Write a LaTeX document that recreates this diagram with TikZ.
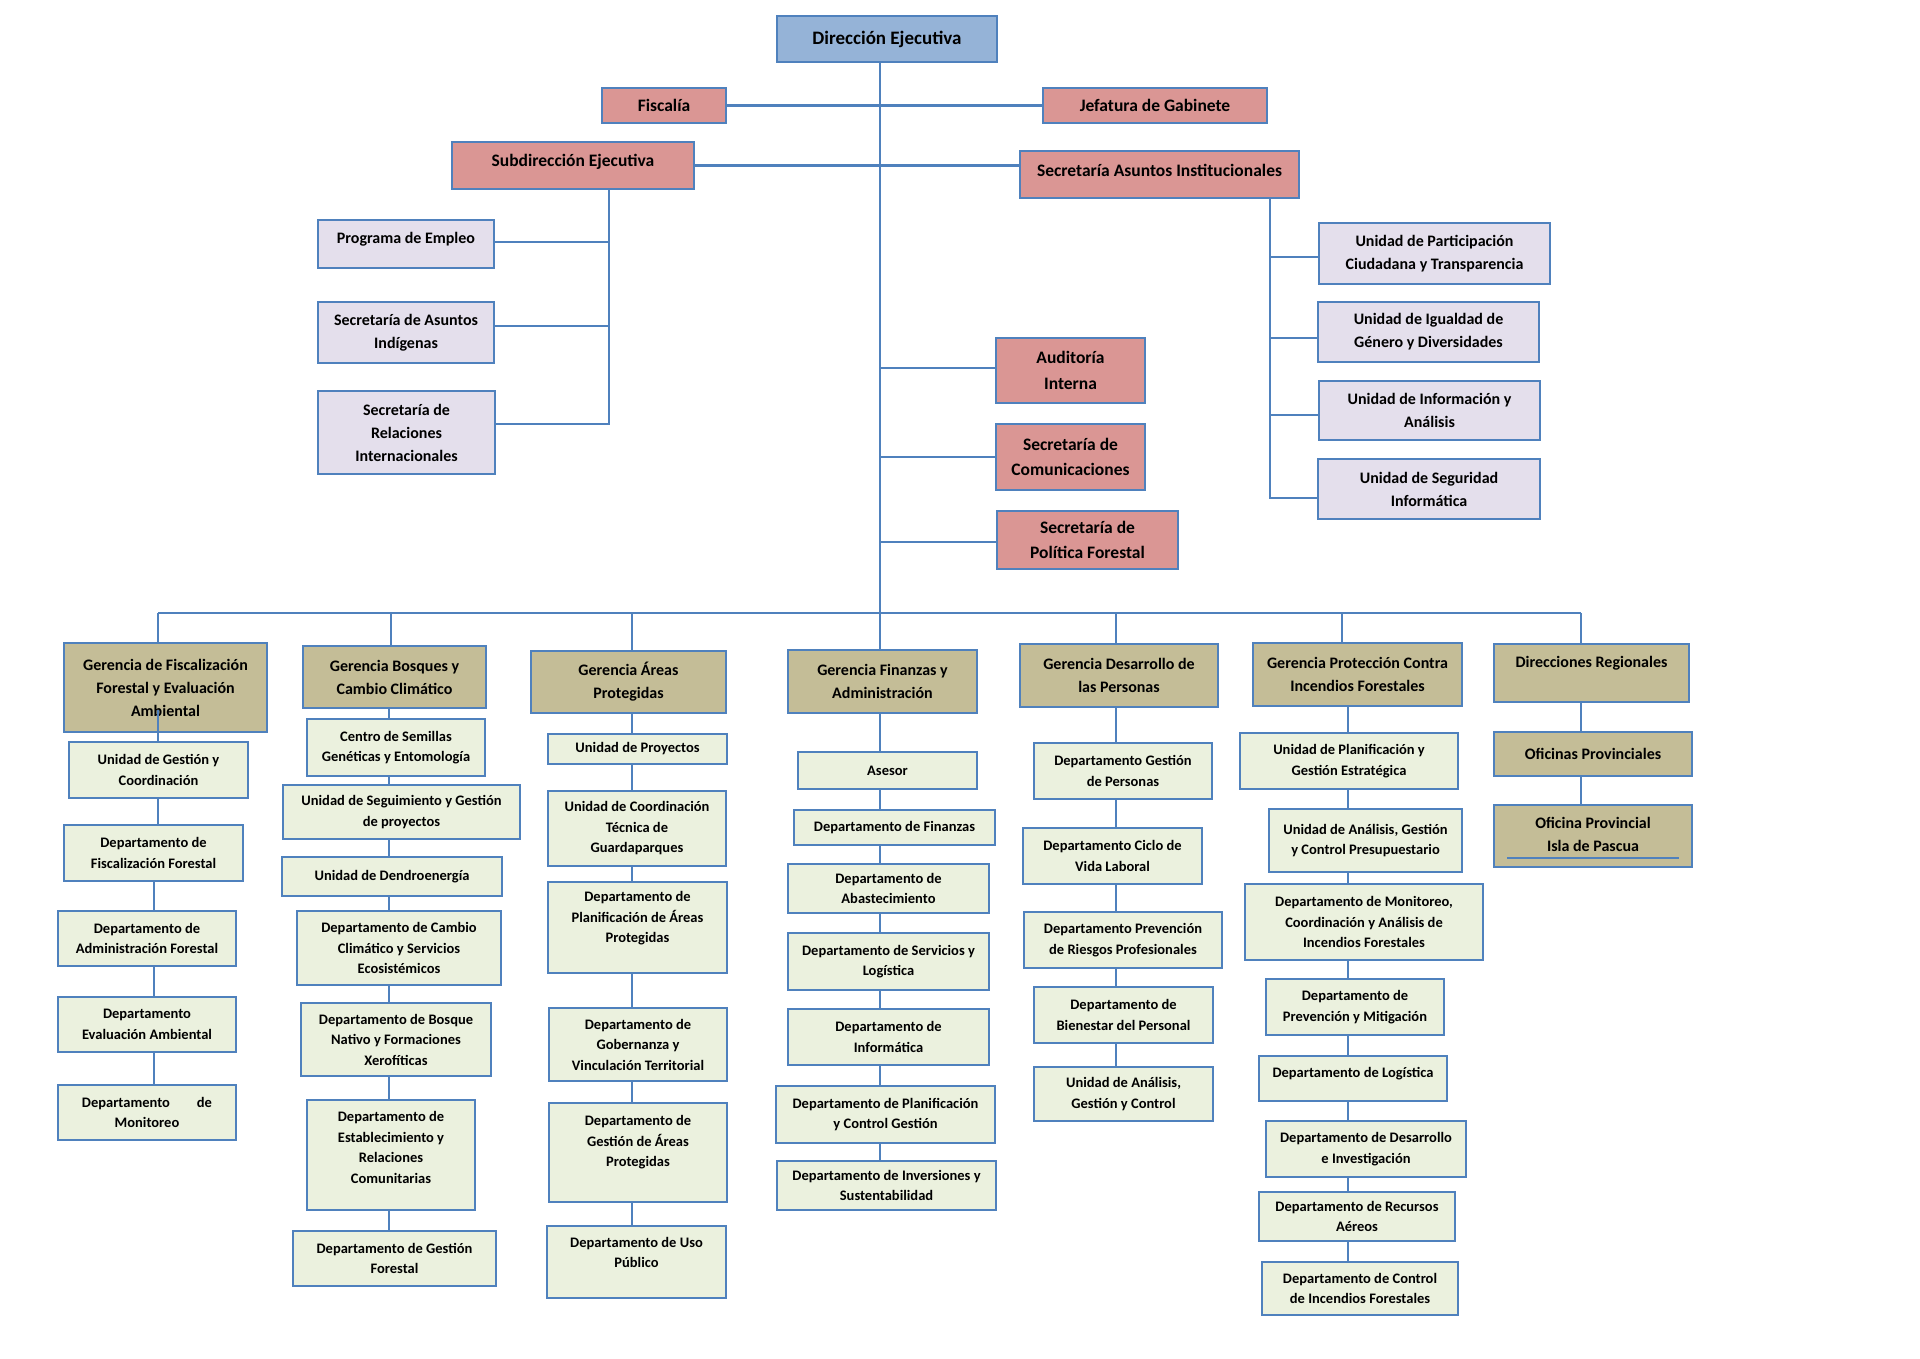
\documentclass[tikz,border=0pt]{standalone}
\usepackage{fontspec}
\setmainfont{Carlito}
\usetikzlibrary{calc}
\definecolor{bord}{HTML}{4F81BD}
\definecolor{fblue}{HTML}{95B3D7}
\definecolor{fred}{HTML}{DA9694}
\definecolor{flav}{HTML}{E4DFEC}
\definecolor{ftan}{HTML}{C4BD97}
\definecolor{fgrn}{HTML}{EBF1DE}
\tikzset{
  boxbase/.style={rectangle, draw=bord, line width=2.2pt, inner sep=0pt, outer sep=0pt},
  boxblue/.style={boxbase, fill=fblue},
  boxred/.style={boxbase, fill=fred},
  boxlav/.style={boxbase, fill=flav},
  boxtan/.style={boxbase, fill=ftan},
  boxgrn/.style={boxbase, fill=fgrn},
  tx/.style={align=center, inner sep=0pt, text=black},
  fs/.style={tx, font=\bfseries\fontsize{14.5}{20.5}\selectfont},
  fm/.style={tx, font=\bfseries\fontsize{16}{23}\selectfont},
  fr/.style={tx, font=\bfseries\fontsize{17.5}{25.5}\selectfont},
  fb/.style={tx, font=\bfseries\fontsize{19}{24}\selectfont},
  conn/.style={draw=bord, line width=2.2pt},
}
% style, name, x1, y1, x2, y2, text dy, text style, text
\newcommand\bx[9]{%
  \node[#1, minimum width={#5-#3}, minimum height={#6-#4}] (#2) at ({(#3+#5)/2},{(#4+#6)/2}) {};
  \node[#8] (#2-t) at ($(#2.center)+(0,#7)$) {#9};
}
\begin{document}
\begin{tikzpicture}[x=1pt, y=-1pt]
\fill[white] (0,0) rectangle (1920,1358);
\useasboundingbox (0,0) rectangle (1920,1358);

% ---------- top level ----------
\bx{boxblue}{de}{777}{16}{997}{62}{0}{fb}{Dirección Ejecutiva}
\bx{boxred}{fisc}{602}{88}{726}{123}{0}{fr}{Fiscalía}
\bx{boxred}{jef}{1043}{88}{1267}{123}{0}{fr}{Jefatura de Gabinete}
\bx{boxred}{subd}{452}{142}{694}{189}{-4}{fr}{Subdirección Ejecutiva}
\bx{boxred}{sai}{1020}{151}{1299}{198}{-4}{fr}{Secretaría Asuntos Institucionales}
\bx{boxred}{aud}{996}{338}{1145}{403}{0}{fr}{Auditoría\\Interna}
\bx{boxred}{com}{996}{424}{1145}{490}{0}{fr}{Secretaría de\\Comunicaciones}
\bx{boxred}{pol}{997}{511}{1178}{569}{0}{fr}{Secretaría de\\Política Forestal}

\bx{boxlav}{pe}{318}{220}{494}{268}{-5}{fm}{Programa de Empleo}
\bx{boxlav}{sind}{318}{302}{494}{363}{0}{fm}{Secretaría de Asuntos\\Indígenas}
\bx{boxlav}{sri}{318}{391}{495}{474}{0}{fm}{Secretaría de\\Relaciones\\Internacionales}

\bx{boxlav}{upc}{1319}{223}{1550}{284}{0}{fm}{Unidad de Participación\\Ciudadana y Transparencia}
\bx{boxlav}{uig}{1318}{302}{1539}{362}{0}{fm}{Unidad de Igualdad de\\Género y Diversidades}
\bx{boxlav}{uia}{1319}{381}{1540}{440}{0}{fm}{Unidad de Información y\\Análisis}
\bx{boxlav}{usi}{1318}{459}{1540}{519}{0}{fm}{Unidad de Seguridad\\Informática}

% ---------- gerencias ----------
\bx{boxtan}{g1}{64}{643}{267}{732}{0}{fm}{Gerencia de Fiscalización\\Forestal y Evaluación\\Ambiental}
\bx{boxtan}{g2}{303}{646}{486}{708}{0}{fm}{Gerencia Bosques y\\Cambio Climático}
\bx{boxtan}{g3}{531}{651}{726}{713}{0}{fm}{Gerencia Áreas\\Protegidas}
\bx{boxtan}{g4}{788}{650}{977}{713}{0}{fm}{Gerencia Finanzas y\\Administración}
\bx{boxtan}{g5}{1020}{644}{1218}{707}{0}{fm}{Gerencia Desarrollo de\\las Personas}
\bx{boxtan}{g6}{1253}{643}{1462}{706}{0}{fm}{Gerencia Protección Contra\\Incendios Forestales}
\bx{boxtan}{g7}{1494}{644}{1689}{702}{-10}{fm}{Direcciones Regionales}
\bx{boxtan}{o1}{1494}{732}{1692}{776}{0}{fm}{Oficinas Provinciales}
\bx{boxtan}{o2}{1494}{805}{1692}{867}{-2}{fm}{Oficina Provincial\\Isla de Pascua}

% ---------- column 1 ----------
\bx{boxgrn}{u1}{69}{742}{248}{798}{0}{fs}{Unidad de Gestión y\\Coordinación}
\bx{boxgrn}{d1}{64}{825}{243}{881}{0}{fs}{Departamento de\\Fiscalización Forestal}
\bx{boxgrn}{d2}{58}{911}{236}{966}{0}{fs}{Departamento de\\Administración Forestal}
\bx{boxgrn}{d3}{58}{997}{236}{1052}{0}{fs}{Departamento\\Evaluación Ambiental}
\bx{boxgrn}{d4}{58}{1085}{236}{1140}{0}{fs}{Departamento\hspace{27pt}de\\Monitoreo}

% ---------- column 2 ----------
\bx{boxgrn}{b1}{307}{719}{485}{776}{0}{fs}{Centro de Semillas\\Genéticas y Entomología}
\bx{boxgrn}{b2}{283}{785}{520}{839}{0}{fs}{Unidad de Seguimiento y Gestión\\de proyectos}
\bx{boxgrn}{b3}{282}{857}{502}{896}{0}{fs}{Unidad de Dendroenergía}
\bx{boxgrn}{b4}{297}{911}{501}{985}{0}{fs}{Departamento de Cambio\\Climático y Servicios\\Ecosistémicos}
\bx{boxgrn}{b5}{301}{1003}{491}{1076}{0}{fs}{Departamento de Bosque\\Nativo y Formaciones\\Xerofíticas}
\bx{boxgrn}{b6}{307}{1100}{475}{1210}{-7.5}{fs}{Departamento de\\Establecimiento y\\Relaciones\\Comunitarias}
\bx{boxgrn}{b7}{293}{1231}{496}{1286}{0}{fs}{Departamento de Gestión\\Forestal}

% ---------- column 3 ----------
\bx{boxgrn}{a1}{548}{734}{727}{764}{0}{fs}{Unidad de Proyectos}
\bx{boxgrn}{a2}{548}{791}{726}{866}{0}{fs}{Unidad de Coordinación\\Técnica de\\Guardaparques}
\bx{boxgrn}{a3}{548}{882}{727}{973}{-9}{fs}{Departamento de\\Planificación de Áreas\\Protegidas}
\bx{boxgrn}{a4}{549}{1008}{727}{1081}{0}{fs}{Departamento de\\Gobernanza y\\Vinculación Territorial}
\bx{boxgrn}{a5}{549}{1103}{727}{1202}{-10}{fs}{Departamento de\\Gestión de Áreas\\Protegidas}
\bx{boxgrn}{a6}{547}{1226}{726}{1298}{-9.5}{fs}{Departamento de Uso\\Público}

% ---------- column 4 ----------
\bx{boxgrn}{f1}{798}{752}{977}{789}{0}{fs}{Asesor}
\bx{boxgrn}{f2}{794}{810}{995}{845}{0}{fs}{Departamento de Finanzas}
\bx{boxgrn}{f3}{788}{864}{989}{913}{0}{fs}{Departamento de\\Abastecimiento}
\bx{boxgrn}{f4}{788}{933}{989}{990}{0}{fs}{Departamento de Servicios y\\Logística}
\bx{boxgrn}{f5}{788}{1009}{989}{1065}{0}{fs}{Departamento de\\Informática}
\bx{boxgrn}{f6}{776}{1086}{995}{1143}{0}{fs}{Departamento de Planificación\\y Control Gestión}
\bx{boxgrn}{f7}{777}{1161}{996}{1210}{0}{fs}{Departamento de Inversiones y\\Sustentabilidad}

% ---------- column 5 ----------
\bx{boxgrn}{p1}{1034}{743}{1212}{799}{0}{fs}{Departamento Gestión\\de Personas}
\bx{boxgrn}{p2}{1023}{828}{1202}{884}{0}{fs}{Departamento Ciclo de\\Vida Laboral}
\bx{boxgrn}{p3}{1024}{912}{1222}{968}{0}{fs}{Departamento Prevención\\de Riesgos Profesionales}
\bx{boxgrn}{p4}{1034}{987}{1213}{1043}{0}{fs}{Departamento de\\Bienestar del Personal}
\bx{boxgrn}{p5}{1034}{1067}{1213}{1121}{0}{fs}{Unidad de Análisis,\\Gestión y Control}

% ---------- column 6 ----------
\bx{boxgrn}{i1}{1240}{733}{1458}{789}{0}{fs}{Unidad de Planificación y\\Gestión Estratégica}
\bx{boxgrn}{i2}{1269}{809}{1462}{872}{0}{fs}{Unidad de Análisis, Gestión\\y Control Presupuestario}
\bx{boxgrn}{i3}{1245}{884}{1483}{960}{0}{fs}{Departamento de Monitoreo,\\Coordinación y Análisis de\\Incendios Forestales}
\bx{boxgrn}{i4}{1266}{979}{1444}{1035}{0}{fs}{Departamento de\\Prevención y Mitigación}
\bx{boxgrn}{i5}{1259}{1056}{1447}{1101}{-5}{fs}{Departamento de Logística}
\bx{boxgrn}{i6}{1266}{1121}{1466}{1177}{0}{fs}{Departamento de Desarrollo\\e Investigación}
\bx{boxgrn}{i7}{1259}{1192}{1455}{1241}{0}{fs}{Departamento de Recursos\\Aéreos}
\bx{boxgrn}{i8}{1262}{1262}{1458}{1315}{0}{fs}{Departamento de Control\\de Incendios Forestales}

% underline inside Isla de Pascua box
\draw[draw=bord, line width=1.5pt] ($(o2.south west)+(13,-9)$) -- ($(o2.south east)+(-13,-9)$);

% ---------- connectors: top ----------
\coordinate (trunk) at (880,613);
\coordinate (sdx) at (609,0);
\coordinate (saix) at (1270,0);
\draw[conn] (de.south -| trunk) -- (trunk |- g4.north);
\draw[conn] (fisc.east) -- (jef.west);
\draw[conn] (subd.east) -- (subd.east -| sai.west);

\coordinate (peB) at ([yshift=2pt]pe.east);
\coordinate (sindB) at ([yshift=6.5pt]sind.east);
\coordinate (sriB) at ([yshift=8.5pt]sri.east);
\draw[conn] (subd.south -| sdx) -- (sriB -| sdx) -- (sriB);
\draw[conn] (peB -| sdx) -- (peB);
\draw[conn] (sindB -| sdx) -- (sindB);

\coordinate (upcB) at ([yshift=-3.5pt]upc.west);
\coordinate (uigB) at ([yshift=-6pt]uig.west);
\coordinate (uiaB) at ([yshift=-4.5pt]uia.west);
\coordinate (usiB) at ([yshift=-9pt]usi.west);
\draw[conn] (sai.south -| saix) -- (usiB -| saix) -- (usiB);
\draw[conn] (upcB -| saix) -- (upcB);
\draw[conn] (uigB -| saix) -- (uigB);
\draw[conn] (uiaB -| saix) -- (uiaB);

\coordinate (audB) at ([yshift=2.5pt]aud.west);
\coordinate (polB) at ([yshift=-2pt]pol.west);
\draw[conn] (audB -| trunk) -- (audB);
\draw[conn] (com.west -| trunk) -- (com.west);
\draw[conn] (polB -| trunk) -- (polB);

% ---------- bus ----------
\coordinate (k1) at (158,613);
\coordinate (k2) at (391,613);
\coordinate (k3) at (632,613);
\coordinate (k5) at (1116,613);
\coordinate (k6) at (1342,613);
\coordinate (k7) at (1581,613);
\draw[conn] (k1) -- (k7);
\foreach \k/\g in {k1/g1,k2/g2,k3/g3,k5/g5,k6/g6,k7/g7}
  \draw[conn] (\k) -- (\k |- \g.north);

% ---------- columns ----------
\coordinate (c1a) at (158,0);
\coordinate (c1b) at (154,0);
\coordinate (c2) at (389,0);
\coordinate (c3) at (632,0);
\coordinate (c4) at (880,0);
\coordinate (c5) at (1116,0);
\coordinate (c6) at (1348,0);
\coordinate (c7) at (1581,0);

\coordinate (g1in) at ([yshift=22pt]g1.south);
\draw[conn] (g1in -| c1a) -- (u1.north -| c1a);
\draw[conn] (u1.south -| c1a) -- (d1.north -| c1a);
\foreach \a/\b in {d1/d2,d2/d3,d3/d4}
  \draw[conn] (\a.south -| c1b) -- (\b.north -| c1b);
\foreach \a/\b in {g2/b1,b1/b2,b2/b3,b3/b4,b4/b5,b5/b6,b6/b7}
  \draw[conn] (\a.south -| c2) -- (\b.north -| c2);
\foreach \a/\b in {g3/a1,a1/a2,a2/a3,a3/a4,a4/a5,a5/a6}
  \draw[conn] (\a.south -| c3) -- (\b.north -| c3);
\foreach \a/\b in {g4/f1,f1/f2,f2/f3,f3/f4,f4/f5,f5/f6,f6/f7}
  \draw[conn] (\a.south -| c4) -- (\b.north -| c4);
\foreach \a/\b in {g5/p1,p1/p2,p2/p3,p3/p4,p4/p5}
  \draw[conn] (\a.south -| c5) -- (\b.north -| c5);
\foreach \a/\b in {g6/i1,i1/i2,i2/i3,i3/i4,i4/i5,i5/i6,i6/i7,i7/i8}
  \draw[conn] (\a.south -| c6) -- (\b.north -| c6);
\foreach \a/\b in {g7/o1,o1/o2}
  \draw[conn] (\a.south -| c7) -- (\b.north -| c7);
\end{tikzpicture}
\end{document}
